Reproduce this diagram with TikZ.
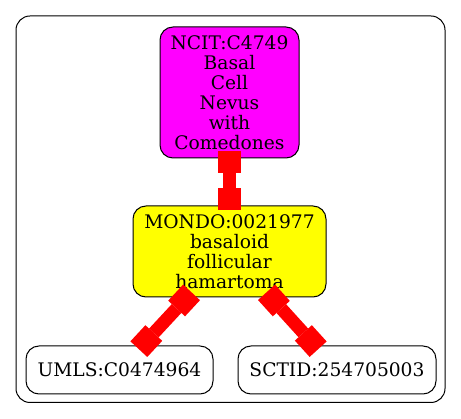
\documentclass[tikz,border=0pt]{standalone}
\usepackage{fontspec}
\setmainfont{DejaVu Serif}
\usepackage{tikz}
\usetikzlibrary{positioning,arrows.meta}

\definecolor{ncitfill}{RGB}{255,0,255}
\definecolor{mondofill}{RGB}{255,255,0}
\definecolor{linkred}{RGB}{255,0,0}

\begin{document}
\begin{tikzpicture}[
  font=\fontsize{18.67pt}{20.1pt}\selectfont,
  every node/.style={align=center},
  term/.style   ={rectangle, rounded corners=13pt, draw=black, line width=1pt,
                  inner sep=3pt},
  ncit/.style   ={term, fill=ncitfill, minimum width=139pt, minimum height=131pt},
  mondo/.style  ={term, fill=mondofill, minimum width=193pt, minimum height=91pt},
  xref/.style   ={term, fill=white, minimum height=48pt},
  cluster/.style={draw=black, line width=1pt, rounded corners=14pt},
  link/.style   ={draw=linkred, line width=13pt,
                  {Square[length=22pt,width=23pt,line width=0pt]}-{Square[length=22pt,width=23pt,line width=0pt]},
                  shorten <=-7pt, shorten >=-5pt},
]
\useasboundingbox (0,0) rectangle (461pt,-419pt);

% --- Cadre ---
\draw[cluster] (16pt,-16pt) rectangle (445pt,-402.5pt);

% --- Termes ---
\node[ncit] (c4749) at (229.5pt,-92.5pt) {NCIT:C4749\\Basal\\Cell\\Nevus\\with\\Comedones};
\node[mondo, below=47pt of c4749] (m0021977) {MONDO:0021977\\basaloid\\follicular\\hamartoma};

% --- Correspondances ---
\node[xref, minimum width=187pt, below=48pt of m0021977, xshift=-110pt] (umls)  {UMLS:C0474964};
\node[xref, minimum width=198pt, right=24pt of umls]                    (sctid) {SCTID:254705003};

% --- Liens ---
\draw[link] (c4749) -- (m0021977);
\draw[link] (m0021977) -- (umls);
\draw[link] (m0021977) -- (sctid);

\end{tikzpicture}
\end{document}
